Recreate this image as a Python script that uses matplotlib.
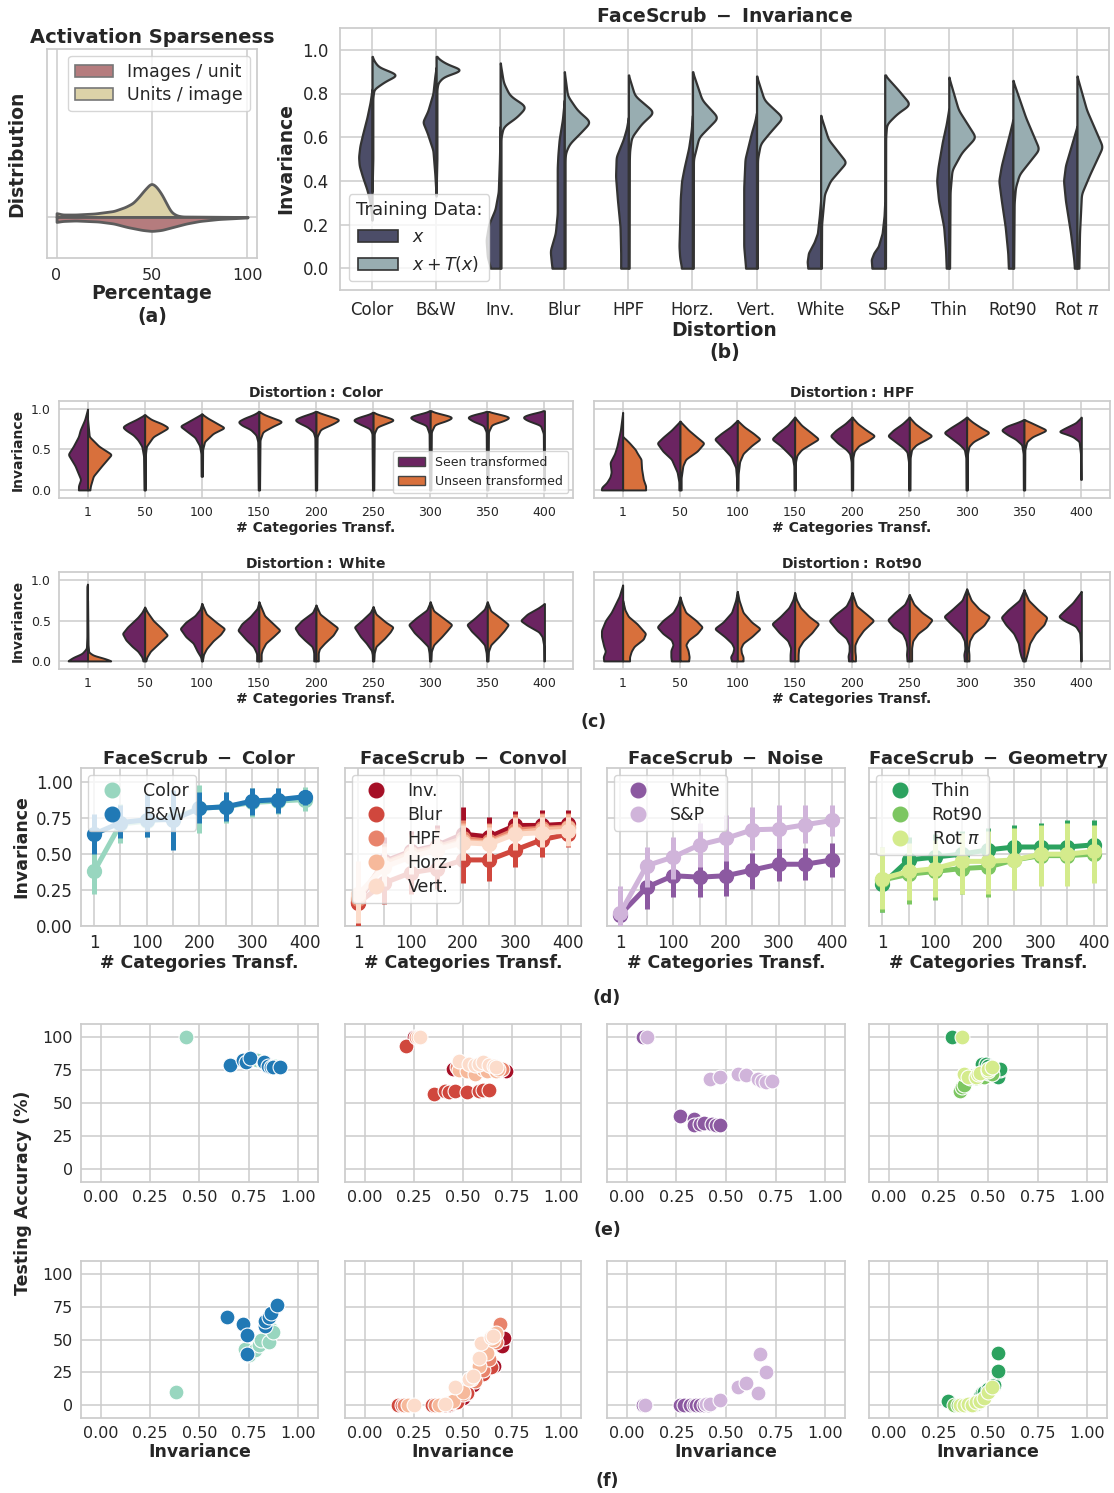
import numpy as np
import matplotlib
matplotlib.use("Agg")
import matplotlib.pyplot as plt
import seaborn as sns
from matplotlib.patches import Patch
from matplotlib.lines import Line2D

sns.set_theme(style="whitegrid")
plt.rcParams['font.family'] = ['DejaVu Sans']
plt.rcParams.update({
    'axes.edgecolor': '#cccccc', 'grid.color': '#cccccc', 'axes.linewidth': 1.25,
    'grid.linewidth': 1.1, 'text.color': '#262626', 'axes.labelcolor': '#262626',
    'xtick.color': '#262626', 'ytick.color': '#262626', 'mathtext.fontset': 'dejavusans',
    'legend.framealpha': 0.8, 'legend.edgecolor': '#cccccc',
})

# ---------------------------------------------------------------- data (a)
A_X_UNITS = [0, 3, 10, 20, 30, 36, 40, 43, 46, 49.5, 52, 55, 58, 60, 63, 66, 100]
A_UNITS_IMAGE = [4, 2.5, 2.5, 3.5, 6, 10, 14, 20, 27, 34, 31, 23, 12, 5, 1.5, 0.5, 0]
A_X_IMAGES = [0, 3, 10, 22, 30, 37, 45, 50, 55, 61, 68, 75, 85, 100]
A_IMAGES_UNIT = [5, 4, 3.5, 4.5, 6.5, 10, 13, 14, 13, 10, 6.5, 4, 2, 0.5]

# ---------------------------------------------------------------- data (b)
B_CATS = ["Color", "B&W", "Inv.", "Blur", "HPF", "Horz.", "Vert.", "White", "S&P",
          "Thin", "Rot90", r"Rot $\pi$"]
# (invariance, half width) profiles, training on x
B_DARK = [
    [(0.22, 0.0), (0.3, 0.03), (0.36, 0.08), (0.42, 0.15), (0.47, 0.2), (0.51, 0.21), (0.56, 0.19), (0.61, 0.15), (0.69, 0.08), (0.76, 0.03), (0.82, 0.0)],
    [(0.33, 0.0), (0.43, 0.02), (0.54, 0.05), (0.62, 0.14), (0.67, 0.21), (0.72, 0.13), (0.80, 0.05), (0.88, 0.02), (0.92, 0.0)],
    [(0.0, 0.15), (0.05, 0.2), (0.13, 0.22), (0.2, 0.18), (0.27, 0.08), (0.35, 0.03), (0.5, 0.012), (0.65, 0.0)],
    [(0.0, 0.19), (0.02, 0.2), (0.08, 0.22), (0.16, 0.14), (0.25, 0.11), (0.31, 0.11), (0.46, 0.11), (0.52, 0.1), (0.59, 0.08), (0.68, 0.03), (0.77, 0.0)],
    [(0.0, 0.12), (0.07, 0.12), (0.19, 0.13), (0.31, 0.17), (0.42, 0.2), (0.51, 0.19), (0.59, 0.08), (0.64, 0.03), (0.69, 0.0)],
    [(0.0, 0.17), (0.05, 0.2), (0.1, 0.21), (0.2, 0.2), (0.32, 0.19), (0.4, 0.17), (0.46, 0.13), (0.55, 0.06), (0.63, 0.02), (0.7, 0.0)],
    [(0.0, 0.17), (0.1, 0.2), (0.24, 0.2), (0.37, 0.2), (0.5, 0.18), (0.62, 0.08), (0.67, 0.03), (0.71, 0.0)],
    [(0.0, 0.2), (0.03, 0.21), (0.07, 0.19), (0.12, 0.1), (0.16, 0.05), (0.24, 0.02), (0.31, 0.0)],
    [(0.0, 0.2), (0.04, 0.21), (0.07, 0.17), (0.1, 0.1), (0.16, 0.04), (0.24, 0.01), (0.3, 0.0)],
    [(0.0, 0.04), (0.08, 0.05), (0.19, 0.08), (0.31, 0.16), (0.4, 0.19), (0.46, 0.17), (0.58, 0.1), (0.66, 0.04), (0.73, 0.0)],
    [(0.0, 0.07), (0.07, 0.08), (0.19, 0.12), (0.31, 0.18), (0.4, 0.22), (0.47, 0.18), (0.54, 0.12), (0.62, 0.05), (0.68, 0.0)],
    [(0.0, 0.04), (0.04, 0.05), (0.16, 0.1), (0.31, 0.18), (0.4, 0.21), (0.47, 0.18), (0.53, 0.12), (0.6, 0.05), (0.65, 0.0)],
]
# training on x + T(x)
B_LIGHT = [
    [(0.35, 0.0), (0.5, 0.012), (0.78, 0.012), (0.82, 0.03), (0.855, 0.2), (0.885, 0.4), (0.905, 0.25), (0.92, 0.11), (0.945, 0.04), (0.97, 0.0)],
    [(0.35, 0.0), (0.5, 0.012), (0.82, 0.012), (0.85, 0.03), (0.878, 0.12), (0.895, 0.3), (0.91, 0.41), (0.925, 0.25), (0.946, 0.1), (0.97, 0.0)],
    [(0.0, 0.012), (0.6, 0.012), (0.65, 0.05), (0.69, 0.25), (0.74, 0.41), (0.79, 0.15), (0.85, 0.05), (0.94, 0.0)],
    [(0.0, 0.012), (0.5, 0.012), (0.53, 0.02), (0.57, 0.08), (0.62, 0.25), (0.67, 0.41), (0.725, 0.2), (0.79, 0.05), (0.9, 0.0)],
    [(0.0, 0.012), (0.5, 0.015), (0.54, 0.02), (0.6, 0.05), (0.66, 0.2), (0.715, 0.40), (0.79, 0.1), (0.885, 0.0)],
    [(0.0, 0.012), (0.5, 0.015), (0.54, 0.05), (0.6, 0.1), (0.69, 0.40), (0.77, 0.15), (0.9, 0.0)],
    [(0.0, 0.012), (0.5, 0.015), (0.57, 0.06), (0.62, 0.2), (0.69, 0.41), (0.77, 0.12), (0.88, 0.0)],
    [(0.0, 0.012), (0.2, 0.015), (0.28, 0.04), (0.34, 0.06), (0.40, 0.15), (0.485, 0.40), (0.59, 0.12), (0.70, 0.0)],
    [(0.0, 0.012), (0.6, 0.015), (0.66, 0.03), (0.71, 0.2), (0.75, 0.40), (0.82, 0.2), (0.885, 0.0)],
    [(0.0, 0.012), (0.35, 0.02), (0.45, 0.05), (0.53, 0.2), (0.60, 0.42), (0.725, 0.15), (0.875, 0.0)],
    [(0.0, 0.012), (0.3, 0.02), (0.37, 0.04), (0.43, 0.1), (0.545, 0.41), (0.69, 0.2), (0.86, 0.0)],
    [(0.0, 0.03), (0.16, 0.04), (0.34, 0.07), (0.43, 0.2), (0.556, 0.40), (0.725, 0.15), (0.88, 0.0)],
]

# ---------------------------------------------------------------- data (c)
C_CATS = ["1", "50", "100", "150", "200", "250", "300", "350", "400"]
C_TITLES = ["Color", "HPF", "White", "Rot90"]
C_COLOR_SEEN = [
    [(0.0, 0.16), (0.05, 0.16), (0.13, 0.12), (0.3, 0.22), (0.44, 0.34), (0.54, 0.25), (0.66, 0.16), (0.74, 0.13), (0.87, 0.05), (1.0, 0.0)],
    [(0.0, 0.012), (0.42, 0.02), (0.54, 0.05), (0.62, 0.12), (0.68, 0.2), (0.74, 0.33), (0.78, 0.39), (0.82, 0.3), (0.87, 0.15), (0.93, 0.0)],
    [(0.17, 0.012), (0.45, 0.015), (0.55, 0.04), (0.65, 0.12), (0.72, 0.25), (0.79, 0.38), (0.84, 0.25), (0.9, 0.1), (0.94, 0.0)],
    [(0.0, 0.012), (0.6, 0.02), (0.68, 0.05), (0.75, 0.15), (0.8, 0.3), (0.845, 0.37), (0.89, 0.25), (0.93, 0.1), (0.97, 0.0)],
    [(0.0, 0.012), (0.65, 0.02), (0.72, 0.05), (0.78, 0.15), (0.83, 0.3), (0.87, 0.38), (0.91, 0.25), (0.945, 0.1), (0.97, 0.0)],
    [(0.0, 0.012), (0.7, 0.02), (0.76, 0.06), (0.82, 0.25), (0.866, 0.36), (0.9, 0.25), (0.935, 0.08), (0.96, 0.0)],
    [(0.0, 0.012), (0.7, 0.02), (0.8, 0.07), (0.85, 0.25), (0.9, 0.37), (0.93, 0.25), (0.955, 0.1), (0.98, 0.0)],
    [(0.0, 0.012), (0.72, 0.02), (0.8, 0.07), (0.85, 0.25), (0.9, 0.36), (0.93, 0.25), (0.955, 0.1), (0.97, 0.0)],
    [(0.0, 0.012), (0.7, 0.02), (0.8, 0.07), (0.86, 0.3), (0.9, 0.39), (0.93, 0.3), (0.96, 0.12), (0.98, 0.0)],
]
C_COLOR_UNSEEN = [
    [(0.0, 0.04), (0.05, 0.05), (0.17, 0.1), (0.3, 0.25), (0.44, 0.42), (0.54, 0.2), (0.66, 0.03), (0.8, 0.01), (0.87, 0.0)],
    [(0.0, 0.012), (0.45, 0.015), (0.54, 0.03), (0.66, 0.15), (0.72, 0.3), (0.77, 0.42), (0.82, 0.3), (0.87, 0.12), (0.93, 0.0)],
    [(0.17, 0.012), (0.5, 0.015), (0.6, 0.05), (0.7, 0.2), (0.77, 0.4), (0.83, 0.25), (0.89, 0.1), (0.94, 0.0)],
    [(0.0, 0.012), (0.62, 0.02), (0.72, 0.07), (0.79, 0.25), (0.845, 0.42), (0.89, 0.25), (0.93, 0.1), (0.97, 0.0)],
    [(0.0, 0.012), (0.66, 0.02), (0.75, 0.08), (0.82, 0.3), (0.87, 0.42), (0.91, 0.25), (0.945, 0.1), (0.97, 0.0)],
    [(0.0, 0.012), (0.7, 0.02), (0.78, 0.07), (0.83, 0.25), (0.866, 0.38), (0.9, 0.25), (0.935, 0.08), (0.96, 0.0)],
    [(0.0, 0.012), (0.72, 0.02), (0.81, 0.08), (0.86, 0.3), (0.9, 0.4), (0.93, 0.25), (0.955, 0.1), (0.98, 0.0)],
    [(0.0, 0.012), (0.72, 0.02), (0.81, 0.08), (0.86, 0.3), (0.9, 0.4), (0.93, 0.25), (0.955, 0.1), (0.97, 0.0)],
    None,
]
C_HPF_SEEN = [
    [(0.0, 0.37), (0.03, 0.37), (0.09, 0.28), (0.16, 0.22), (0.22, 0.2), (0.34, 0.22), (0.45, 0.14), (0.54, 0.1), (0.74, 0.04), (0.96, 0.0)],
    [(0.0, 0.02), (0.1, 0.02), (0.22, 0.05), (0.3, 0.1), (0.38, 0.15), (0.48, 0.3), (0.58, 0.40), (0.65, 0.3), (0.74, 0.15), (0.85, 0.0)],
    [(0.0, 0.012), (0.15, 0.015), (0.28, 0.03), (0.42, 0.12), (0.52, 0.25), (0.63, 0.40), (0.7, 0.28), (0.78, 0.12), (0.86, 0.0)],
    [(0.0, 0.012), (0.3, 0.015), (0.4, 0.04), (0.46, 0.12), (0.55, 0.25), (0.63, 0.40), (0.7, 0.3), (0.8, 0.12), (0.9, 0.0)],
    [(0.0, 0.012), (0.35, 0.015), (0.45, 0.04), (0.5, 0.1), (0.58, 0.25), (0.67, 0.38), (0.74, 0.28), (0.82, 0.12), (0.9, 0.0)],
    [(0.0, 0.012), (0.35, 0.015), (0.47, 0.04), (0.53, 0.12), (0.6, 0.25), (0.67, 0.38), (0.74, 0.28), (0.82, 0.12), (0.9, 0.0)],
    [(0.0, 0.012), (0.4, 0.015), (0.5, 0.04), (0.56, 0.12), (0.63, 0.25), (0.71, 0.40), (0.77, 0.28), (0.84, 0.12), (0.9, 0.0)],
    [(0.0, 0.012), (0.45, 0.015), (0.56, 0.04), (0.63, 0.15), (0.68, 0.28), (0.74, 0.40), (0.79, 0.3), (0.84, 0.1), (0.87, 0.0)],
    [(0.13, 0.012), (0.45, 0.015), (0.6, 0.04), (0.66, 0.15), (0.7, 0.3), (0.72, 0.4), (0.76, 0.3), (0.83, 0.1), (0.9, 0.0)],
]
C_HPF_UNSEEN = [
    [(0.0, 0.4), (0.05, 0.4), (0.13, 0.36), (0.26, 0.33), (0.38, 0.32), (0.46, 0.25), (0.5, 0.22), (0.58, 0.12), (0.63, 0.05), (0.66, 0.0)],
    [(0.0, 0.02), (0.15, 0.02), (0.3, 0.05), (0.38, 0.1), (0.48, 0.3), (0.58, 0.42), (0.65, 0.3), (0.74, 0.15), (0.85, 0.0)],
    [(0.0, 0.012), (0.2, 0.015), (0.35, 0.04), (0.45, 0.1), (0.55, 0.25), (0.63, 0.40), (0.7, 0.28), (0.78, 0.12), (0.86, 0.0)],
    [(0.0, 0.012), (0.35, 0.015), (0.43, 0.04), (0.5, 0.12), (0.57, 0.28), (0.63, 0.42), (0.7, 0.3), (0.8, 0.12), (0.9, 0.0)],
    [(0.0, 0.012), (0.4, 0.015), (0.48, 0.04), (0.55, 0.12), (0.61, 0.28), (0.67, 0.40), (0.74, 0.25), (0.82, 0.1), (0.9, 0.0)],
    [(0.0, 0.012), (0.4, 0.015), (0.5, 0.04), (0.56, 0.12), (0.62, 0.28), (0.67, 0.40), (0.74, 0.25), (0.82, 0.1), (0.9, 0.0)],
    [(0.0, 0.012), (0.45, 0.015), (0.54, 0.04), (0.6, 0.12), (0.66, 0.28), (0.71, 0.40), (0.77, 0.25), (0.84, 0.1), (0.9, 0.0)],
    [(0.0, 0.012), (0.5, 0.015), (0.6, 0.05), (0.66, 0.15), (0.7, 0.28), (0.74, 0.40), (0.79, 0.25), (0.84, 0.1), (0.87, 0.0)],
    None,
]
C_WHITE_SEEN = [
    [(0.0, 0.35), (0.045, 0.25), (0.09, 0.1), (0.155, 0.02), (0.3, 0.012), (0.93, 0.012), (0.95, 0.0)],
    [(0.0, 0.03), (0.05, 0.05), (0.12, 0.12), (0.18, 0.22), (0.26, 0.33), (0.34, 0.39), (0.42, 0.3), (0.54, 0.12), (0.6, 0.05), (0.665, 0.0)],
    [(0.0, 0.005), (0.05, 0.02), (0.12, 0.08), (0.22, 0.15), (0.3, 0.28), (0.4, 0.38), (0.48, 0.28), (0.56, 0.12), (0.64, 0.03), (0.71, 0.0)],
    [(0.0, 0.04), (0.09, 0.04), (0.14, 0.07), (0.18, 0.1), (0.26, 0.22), (0.38, 0.37), (0.46, 0.3), (0.55, 0.15), (0.65, 0.03), (0.73, 0.0)],
    [(0.0, 0.04), (0.1, 0.04), (0.14, 0.05), (0.18, 0.07), (0.26, 0.2), (0.33, 0.3), (0.41, 0.37), (0.5, 0.25), (0.6, 0.06), (0.69, 0.0)],
    [(0.0, 0.012), (0.08, 0.015), (0.13, 0.03), (0.22, 0.12), (0.3, 0.22), (0.42, 0.33), (0.5, 0.2), (0.6, 0.05), (0.67, 0.0)],
    [(0.0, 0.012), (0.1, 0.02), (0.18, 0.04), (0.26, 0.15), (0.35, 0.28), (0.45, 0.38), (0.53, 0.25), (0.63, 0.06), (0.73, 0.0)],
    [(0.0, 0.012), (0.1, 0.02), (0.2, 0.05), (0.28, 0.15), (0.37, 0.28), (0.45, 0.36), (0.53, 0.22), (0.64, 0.05), (0.73, 0.0)],
    [(0.0, 0.012), (0.2, 0.015), (0.3, 0.04), (0.36, 0.1), (0.44, 0.3), (0.5, 0.42), (0.58, 0.3), (0.66, 0.1), (0.71, 0.0)],
]
C_WHITE_UNSEEN = [
    [(0.0, 0.42), (0.03, 0.3), (0.07, 0.1), (0.11, 0.02), (0.2, 0.008), (0.75, 0.0)],
    [(0.0, 0.02), (0.05, 0.04), (0.12, 0.1), (0.2, 0.22), (0.32, 0.40), (0.4, 0.3), (0.5, 0.15), (0.6, 0.05), (0.665, 0.0)],
    [(0.0, 0.01), (0.08, 0.03), (0.15, 0.08), (0.25, 0.2), (0.33, 0.33), (0.4, 0.4), (0.48, 0.25), (0.58, 0.08), (0.71, 0.0)],
    [(0.0, 0.04), (0.09, 0.04), (0.14, 0.06), (0.22, 0.12), (0.3, 0.25), (0.38, 0.37), (0.46, 0.25), (0.56, 0.1), (0.73, 0.0)],
    [(0.0, 0.04), (0.1, 0.04), (0.15, 0.06), (0.22, 0.15), (0.32, 0.3), (0.41, 0.38), (0.48, 0.25), (0.58, 0.07), (0.69, 0.0)],
    [(0.0, 0.012), (0.1, 0.02), (0.18, 0.05), (0.28, 0.2), (0.36, 0.3), (0.42, 0.35), (0.48, 0.22), (0.58, 0.05), (0.67, 0.0)],
    [(0.0, 0.012), (0.12, 0.02), (0.2, 0.06), (0.3, 0.2), (0.38, 0.3), (0.45, 0.38), (0.52, 0.25), (0.62, 0.06), (0.73, 0.0)],
    [(0.0, 0.012), (0.12, 0.02), (0.2, 0.06), (0.3, 0.2), (0.38, 0.3), (0.45, 0.37), (0.52, 0.25), (0.62, 0.06), (0.73, 0.0)],
    None,
]
C_ROT90_SEEN = [
    [(0.0, 0.33), (0.05, 0.34), (0.12, 0.3), (0.18, 0.33), (0.3, 0.37), (0.38, 0.37), (0.5, 0.3), (0.6, 0.2), (0.67, 0.15), (0.8, 0.06), (0.94, 0.0)],
    [(0.0, 0.15), (0.05, 0.16), (0.13, 0.16), (0.2, 0.12), (0.26, 0.15), (0.34, 0.3), (0.42, 0.4), (0.5, 0.3), (0.6, 0.12), (0.7, 0.04), (0.79, 0.0)],
    [(0.0, 0.1), (0.05, 0.12), (0.1, 0.08), (0.16, 0.06), (0.22, 0.1), (0.3, 0.22), (0.4, 0.4), (0.48, 0.25), (0.6, 0.1), (0.75, 0.03), (0.86, 0.0)],
    [(0.0, 0.08), (0.08, 0.08), (0.16, 0.07), (0.25, 0.12), (0.35, 0.27), (0.46, 0.4), (0.55, 0.25), (0.66, 0.1), (0.76, 0.03), (0.845, 0.0)],
    [(0.0, 0.06), (0.06, 0.07), (0.12, 0.05), (0.2, 0.05), (0.28, 0.1), (0.37, 0.25), (0.5, 0.4), (0.58, 0.28), (0.68, 0.1), (0.78, 0.03), (0.845, 0.0)],
    [(0.0, 0.04), (0.08, 0.05), (0.16, 0.04), (0.25, 0.06), (0.34, 0.12), (0.42, 0.28), (0.51, 0.38), (0.6, 0.25), (0.7, 0.08), (0.82, 0.0)],
    [(0.0, 0.04), (0.08, 0.05), (0.15, 0.03), (0.25, 0.04), (0.34, 0.1), (0.44, 0.25), (0.55, 0.4), (0.64, 0.25), (0.75, 0.08), (0.89, 0.0)],
    [(0.0, 0.02), (0.05, 0.05), (0.13, 0.08), (0.22, 0.1), (0.34, 0.18), (0.45, 0.32), (0.54, 0.4), (0.63, 0.28), (0.75, 0.08), (0.88, 0.0)],
    [(0.0, 0.012), (0.2, 0.015), (0.35, 0.03), (0.43, 0.1), (0.5, 0.3), (0.55, 0.4), (0.62, 0.3), (0.72, 0.15), (0.86, 0.0)],
]
C_ROT90_UNSEEN = [
    [(0.0, 0.12), (0.05, 0.12), (0.12, 0.15), (0.18, 0.2), (0.27, 0.36), (0.34, 0.4), (0.42, 0.3), (0.46, 0.25), (0.55, 0.1), (0.63, 0.04), (0.75, 0.0)],
    [(0.0, 0.15), (0.05, 0.16), (0.13, 0.14), (0.2, 0.1), (0.26, 0.15), (0.34, 0.3), (0.42, 0.39), (0.5, 0.28), (0.6, 0.1), (0.7, 0.04), (0.79, 0.0)],
    [(0.0, 0.1), (0.05, 0.1), (0.1, 0.07), (0.16, 0.06), (0.22, 0.1), (0.3, 0.25), (0.4, 0.4), (0.48, 0.25), (0.6, 0.1), (0.75, 0.03), (0.86, 0.0)],
    [(0.0, 0.06), (0.08, 0.06), (0.16, 0.07), (0.25, 0.15), (0.35, 0.3), (0.46, 0.42), (0.55, 0.25), (0.66, 0.1), (0.76, 0.03), (0.845, 0.0)],
    [(0.0, 0.06), (0.06, 0.06), (0.12, 0.05), (0.2, 0.05), (0.28, 0.1), (0.38, 0.2), (0.46, 0.32), (0.5, 0.38), (0.58, 0.25), (0.68, 0.08), (0.845, 0.0)],
    [(0.0, 0.04), (0.08, 0.04), (0.16, 0.04), (0.25, 0.06), (0.34, 0.15), (0.42, 0.3), (0.51, 0.4), (0.6, 0.22), (0.7, 0.08), (0.82, 0.0)],
    [(0.0, 0.04), (0.08, 0.04), (0.15, 0.03), (0.25, 0.05), (0.34, 0.12), (0.44, 0.3), (0.55, 0.4), (0.64, 0.22), (0.75, 0.08), (0.89, 0.0)],
    [(0.0, 0.02), (0.05, 0.04), (0.13, 0.07), (0.22, 0.1), (0.34, 0.2), (0.45, 0.35), (0.54, 0.4), (0.63, 0.25), (0.75, 0.08), (0.88, 0.0)],
    None,
]

# ---------------------------------------------------------------- data (d)
D_CATS = ["1", "50", "100", "150", "200", "250", "300", "350", "400"]
D_TICKLABELS = ["1", "", "100", "", "200", "", "300", "", "400"]
D_TITLES = ["Color", "Convol", "Noise", "Geometry"]

COLOR_MEAN = [0.38, 0.71, 0.73, 0.75, 0.82, 0.83, 0.86, 0.87, 0.88]
COLOR_LO = [0.22, 0.58, 0.62, 0.60, 0.65, 0.72, 0.76, 0.78, 0.80]
COLOR_HI = [0.55, 0.85, 0.86, 0.88, 0.98, 0.93, 0.96, 0.96, 0.97]
BW_MEAN = [0.64, 0.72, 0.74, 0.74, 0.82, 0.83, 0.87, 0.88, 0.90]
BW_LO = [0.50, 0.61, 0.62, 0.53, 0.72, 0.73, 0.77, 0.79, 0.84]
BW_HI = [0.78, 0.84, 0.92, 0.95, 0.93, 0.93, 0.96, 0.96, 0.95]

INV_MEAN = [0.17, 0.45, 0.52, 0.56, 0.64, 0.62, 0.70, 0.70, 0.71]
INV_LO = [0.05, 0.30, 0.38, 0.42, 0.50, 0.48, 0.58, 0.60, 0.62]
INV_HI = [0.30, 0.62, 0.66, 0.70, 0.83, 0.76, 0.80, 0.81, 0.81]
BLUR_MEAN = [0.16, 0.30, 0.37, 0.40, 0.46, 0.46, 0.53, 0.60, 0.64]
BLUR_LO = [0.00, 0.15, 0.22, 0.26, 0.30, 0.31, 0.41, 0.48, 0.55]
BLUR_HI = [0.35, 0.45, 0.52, 0.55, 0.62, 0.61, 0.67, 0.72, 0.74]
HPF_MEAN = [0.19, 0.44, 0.51, 0.55, 0.61, 0.59, 0.67, 0.68, 0.69]
HPF_LO = [0.05, 0.30, 0.38, 0.42, 0.48, 0.46, 0.56, 0.58, 0.60]
HPF_HI = [0.35, 0.58, 0.64, 0.68, 0.74, 0.72, 0.78, 0.79, 0.79]
HORZ_MEAN = [0.20, 0.43, 0.50, 0.54, 0.59, 0.58, 0.65, 0.67, 0.68]
HORZ_LO = [0.05, 0.30, 0.37, 0.41, 0.46, 0.45, 0.54, 0.56, 0.58]
HORZ_HI = [0.36, 0.56, 0.63, 0.67, 0.72, 0.71, 0.76, 0.78, 0.78]
VERT_MEAN = [0.22, 0.41, 0.48, 0.53, 0.58, 0.57, 0.64, 0.65, 0.66]
VERT_LO = [0.02, 0.28, 0.36, 0.40, 0.46, 0.45, 0.53, 0.55, 0.56]
VERT_HI = [0.45, 0.55, 0.62, 0.66, 0.70, 0.69, 0.75, 0.76, 0.76]

WHITE_MEAN = [0.08, 0.27, 0.35, 0.34, 0.35, 0.39, 0.43, 0.43, 0.46]
WHITE_LO = [0.00, 0.12, 0.20, 0.20, 0.21, 0.26, 0.31, 0.32, 0.34]
WHITE_HI = [0.20, 0.38, 0.48, 0.49, 0.48, 0.51, 0.54, 0.54, 0.58]
SP_MEAN = [0.09, 0.42, 0.48, 0.565, 0.61, 0.67, 0.675, 0.705, 0.735]
SP_LO = [0.00, 0.27, 0.33, 0.41, 0.45, 0.53, 0.54, 0.58, 0.63]
SP_HI = [0.28, 0.55, 0.62, 0.72, 0.77, 0.83, 0.84, 0.84, 0.84]

THIN_MEAN = [0.29, 0.46, 0.48, 0.50, 0.53, 0.55, 0.55, 0.55, 0.565]
THIN_LO = [0.10, 0.28, 0.30, 0.33, 0.38, 0.38, 0.38, 0.36, 0.36]
THIN_HI = [0.50, 0.62, 0.64, 0.66, 0.68, 0.70, 0.72, 0.74, 0.74]
ROT90_MEAN = [0.32, 0.36, 0.38, 0.40, 0.41, 0.46, 0.49, 0.49, 0.50]
ROT90_LO = [0.10, 0.15, 0.18, 0.22, 0.20, 0.28, 0.30, 0.30, 0.32]
ROT90_HI = [0.55, 0.56, 0.58, 0.60, 0.62, 0.64, 0.66, 0.68, 0.68]
ROTPI_MEAN = [0.33, 0.38, 0.40, 0.45, 0.45, 0.46, 0.50, 0.50, 0.52]
ROTPI_LO = [0.12, 0.18, 0.20, 0.22, 0.22, 0.25, 0.28, 0.28, 0.30]
ROTPI_HI = [0.55, 0.58, 0.60, 0.65, 0.66, 0.68, 0.70, 0.72, 0.70]

# ---------------------------------------------------------------- data (e)
E_COLOR_X = [0.43, 0.72, 0.74, 0.76, 0.79, 0.82, 0.85, 0.87, 0.88]
E_COLOR_Y = [100, 83, 83, 84, 83, 81, 79, 78, 78]
E_BW_X = [0.655, 0.72, 0.737, 0.755, 0.827, 0.845, 0.86, 0.873, 0.91]
E_BW_Y = [78.5, 83, 81, 84, 81, 78, 77, 77.5, 77.5]
E_INV_X = [0.25, 0.45, 0.50, 0.55, 0.60, 0.63, 0.66, 0.70, 0.72]
E_INV_Y = [100, 76, 77, 76, 75, 76, 77, 76, 74]
E_BLUR_X = [0.21, 0.35, 0.41, 0.43, 0.46, 0.52, 0.58, 0.60, 0.63]
E_BLUR_Y = [93, 57, 59, 58, 59, 58, 59, 60, 60]
E_HPF_X = [0.26, 0.47, 0.52, 0.55, 0.60, 0.62, 0.66, 0.69, 0.70]
E_HPF_Y = [100, 77, 80, 78, 77, 76, 78, 75, 76]
E_HORZ_X = [0.27, 0.48, 0.52, 0.56, 0.60, 0.62, 0.65, 0.67, 0.68]
E_HORZ_Y = [100, 75, 74, 72, 76, 74, 77, 74, 76]
E_VERT_X = [0.28, 0.48, 0.53, 0.56, 0.58, 0.60, 0.63, 0.66, 0.67]
E_VERT_Y = [100, 82, 80, 79, 80, 81, 79, 78, 77]
E_WHITE_X = [0.08, 0.27, 0.34, 0.34, 0.37, 0.39, 0.43, 0.45, 0.47]
E_WHITE_Y = [100, 40.5, 37.5, 33, 34, 35, 34, 33, 33]
E_SP_X = [0.10, 0.42, 0.47, 0.56, 0.60, 0.66, 0.68, 0.70, 0.73]
E_SP_Y = [100, 68.5, 70, 72, 71, 68.5, 67, 66, 67]
E_THIN_X = [0.32, 0.47, 0.49, 0.50, 0.53, 0.55, 0.55, 0.56, 0.56]
E_THIN_Y = [100, 80, 80, 78, 76, 75, 70, 75, 76]
E_ROT90_X = [0.36, 0.37, 0.38, 0.41, 0.44, 0.46, 0.48, 0.50, 0.52]
E_ROT90_Y = [59, 62, 64, 69, 69, 70, 70, 73, 72]
E_ROTPI_X = [0.37, 0.38, 0.40, 0.44, 0.45, 0.46, 0.50, 0.50, 0.52]
E_ROTPI_Y = [100, 72, 70, 70, 72, 73, 74, 76, 77]

# ---------------------------------------------------------------- data (f)
F_COLOR_X = [0.38, 0.73, 0.75, 0.78, 0.80, 0.81, 0.85, 0.86, 0.87]
F_COLOR_Y = [10, 43, 38, 42, 46, 50, 48, 58, 56]
F_BW_X = [0.64, 0.72, 0.74, 0.74, 0.83, 0.83, 0.85, 0.86, 0.89]
F_BW_Y = [67.5, 62, 53.5, 39, 60, 64.5, 67.5, 70, 76]
F_INV_X = [0.19, 0.35, 0.43, 0.50, 0.55, 0.60, 0.66, 0.70, 0.71]
F_INV_Y = [0, 0, 0, 5, 15, 25, 30, 45, 51]
F_BLUR_X = [0.17, 0.19, 0.34, 0.41, 0.43, 0.47, 0.52, 0.60, 0.64]
F_BLUR_Y = [0, 0, 0, 0, 1, 2, 9, 24, 29]
F_HPF_X = [0.20, 0.36, 0.44, 0.50, 0.56, 0.60, 0.63, 0.67, 0.69]
F_HPF_Y = [0, 0, 2, 8, 18, 27, 35, 48, 62]
F_HORZ_X = [0.22, 0.38, 0.45, 0.50, 0.54, 0.58, 0.62, 0.65, 0.67]
F_HORZ_Y = [0, 0, 3, 10, 20, 30, 40, 50, 55]
F_VERT_X = [0.25, 0.41, 0.46, 0.53, 0.55, 0.58, 0.59, 0.64, 0.65]
F_VERT_Y = [0, 1, 14, 20, 22, 36, 47, 52, 53]
F_WHITE_X = [0.08, 0.27, 0.29, 0.32, 0.34, 0.35, 0.37, 0.39, 0.41]
F_WHITE_Y = [0, 0, 0, 0, 0, 0, 0, 0, 0]
F_SP_X = [0.09, 0.40, 0.42, 0.47, 0.56, 0.60, 0.66, 0.67, 0.70]
F_SP_Y = [0, 0.5, 1, 3.5, 14, 17, 9, 39, 25]
F_THIN_X = [0.30, 0.46, 0.47, 0.48, 0.50, 0.53, 0.55, 0.55, 0.55]
F_THIN_Y = [3, 7, 9, 10, 12, 15, 25, 26, 40]
F_ROT90_X = [0.33, 0.35, 0.37, 0.38, 0.40, 0.41, 0.43, 0.44, 0.45]
F_ROT90_Y = [0, 0, 0, 0, 0, 0, 0, 1, 2]
F_ROTPI_X = [0.36, 0.38, 0.40, 0.42, 0.44, 0.46, 0.48, 0.50, 0.52]
F_ROTPI_Y = [0, 0, 1, 0, 2, 3, 5, 10, 14]

# ---------------------------------------------------------------- colours
COL = {"Color": "#98d6bf", "B&W": "#2179b5",
       "Inv.": "#a50f26", "Blur": "#d0473d", "HPF": "#e8836b", "Horz.": "#f6b99b", "Vert.": "#fcdccb",
       "White": "#8c59a1", "S&P": "#d0b4da",
       "Thin": "#2ca25f", "Rot90": "#7cc661", "Rot $\\pi$": "#d4eb8c"}

# ---------------------------------------------------------------- helpers
W, H = 1114, 1493
fig = plt.figure(figsize=(W / 100, H / 100), dpi=100)


def add_ax(x0, y0, x1, y1):
    return fig.add_axes([x0 / W, 1 - y1 / H, (x1 - x0) / W, (y1 - y0) / H])


def smooth_profile(ys, ws, n=300, k=21):
    ys = np.asarray(ys, float)
    ws = np.asarray(ws, float)
    yy = np.linspace(ys[0], ys[-1], n)
    ww = np.interp(yy, ys, ws)
    ker = np.hanning(k)
    ker /= ker.sum()
    wp = np.pad(ww, k // 2, mode='edge')
    ww = np.convolve(wp, ker, mode='valid')
    return yy, ww


def half_violin(ax, pos, prof, side, color, ec, lw):
    ys = [p[0] for p in prof]
    ws = [p[1] for p in prof]
    yy, ww = smooth_profile(ys, ws)
    xs = pos - ww if side == 'left' else pos + ww
    ax.fill_betweenx(yy, pos, xs, facecolor=color, edgecolor=ec, lw=lw, zorder=3)


def style_ax(ax, fs, pad=6):
    ax.tick_params(axis='both', length=0, labelsize=fs, pad=pad)
    for s in ax.spines.values():
        s.set_color('#cccccc')
        s.set_linewidth(1.25)
    ax.grid(True, color='#cccccc', lw=1.1)
    ax.set_axisbelow(True)


BOLD_TITLE = lambda s: r"$\bf{" + s + "}$"

# ================================================================ (a)
axa = add_ax(47, 49, 257, 258)
style_ax(axa, 11.5, pad=7)
xa, ha = smooth_profile(A_X_UNITS, A_UNITS_IMAGE, k=15)
xb, hb = smooth_profile(A_X_IMAGES, A_IMAGES_UNIT, k=15)
c_units = "#dcd2a8"
c_images = "#b57c7e"
axa.fill_between(xa, 0, ha, facecolor=c_units, edgecolor='#5c5c5c', lw=2, zorder=3)
axa.fill_between(xb, 0, -hb, facecolor=c_images, edgecolor='#5c5c5c', lw=2, zorder=3)
axa.set_xlim(-5, 105)
axa.set_ylim(-41, 168)
axa.set_xticks([0, 50, 100])
axa.set_yticks([0])
axa.set_yticklabels([""])
axa.set_title("Activation Sparseness", fontsize=14, fontweight='bold', pad=4)
axa.set_ylabel("Distribution", fontsize=13.5, fontweight='bold', labelpad=8)
axa.set_xlabel("Percentage\n(a)", fontsize=13.5, fontweight='bold', labelpad=1, linespacing=1.25)
axa.legend(handles=[Patch(facecolor=c_images, edgecolor='#777777', lw=1.2, label="Images / unit"),
                    Patch(facecolor=c_units, edgecolor='#777777', lw=1.2, label="Units / image")],
           loc='upper right', fontsize=12.5, borderaxespad=0.4, handlelength=2.2, labelspacing=0.3)

# ================================================================ (b)
axb = add_ax(340, 28, 1109, 290)
style_ax(axb, 12, pad=8)
dark, light = "#4c4d68", "#98adb1"
for i in range(len(B_CATS)):
    half_violin(axb, i, B_DARK[i], 'left', dark, '#333333', 1.6)
    half_violin(axb, i, B_LIGHT[i], 'right', light, '#333333', 1.6)
axb.set_xlim(-0.5, len(B_CATS) - 0.5)
axb.set_ylim(-0.1, 1.1)
axb.set_xticks(range(len(B_CATS)))
axb.set_xticklabels(B_CATS)
axb.set_yticks([0, 0.2, 0.4, 0.6, 0.8, 1.0])
axb.set_yticklabels(["0.0", "0.2", "0.4", "0.6", "0.8", "1.0"])
axb.set_title(BOLD_TITLE(r"FaceScrub\ -\ Invariance"), fontsize=13.5, pad=4)
axb.set_ylabel("Invariance", fontsize=13.5, fontweight='bold', labelpad=5)
axb.set_xlabel("Distortion\n(b)", fontsize=13.5, fontweight='bold', labelpad=1, linespacing=1.25)
lg = axb.legend(handles=[Patch(facecolor=dark, edgecolor='#333333', lw=1.2, label="$x$"),
                         Patch(facecolor=light, edgecolor='#333333', lw=1.2, label="$x + T(x)$")],
                title="Training Data:", loc='lower left', fontsize=12.5, title_fontsize=13,
                handlelength=2.3, borderaxespad=0.5)
lg.set_zorder(10)

# ================================================================ (c)
c_seen, c_unseen = "#6b2461", "#d8703c"
C_PANELS = [(C_COLOR_SEEN, C_COLOR_UNSEEN), (C_HPF_SEEN, C_HPF_UNSEEN),
            (C_WHITE_SEEN, C_WHITE_UNSEEN), (C_ROT90_SEEN, C_ROT90_UNSEEN)]
C_BOXES = [(59, 401, 573, 498), (594, 401, 1110, 498), (59, 572, 573, 669), (594, 572, 1110, 669)]
for k, (box, (seen, unseen)) in enumerate(zip(C_BOXES, C_PANELS)):
    ax = add_ax(*box)
    style_ax(ax, 9, pad=6)
    for i in range(len(C_CATS)):
        half_violin(ax, i, seen[i], 'left', c_seen, '#2b2b2b', 1.4)
        if unseen[i] is not None:
            half_violin(ax, i, unseen[i], 'right', c_unseen, '#2b2b2b', 1.4)
    ax.set_xlim(-0.5, len(C_CATS) - 0.5)
    ax.set_ylim(-0.1, 1.1)
    ax.set_xticks(range(len(C_CATS)))
    ax.set_xticklabels(C_CATS)
    ax.set_yticks([0, 0.5, 1.0])
    if k % 2 == 0:
        ax.set_yticklabels(["0.0", "0.5", "1.0"])
        ax.set_ylabel("Invariance", fontsize=10, fontweight='bold', labelpad=4)
    else:
        ax.set_yticklabels([])
    ax.set_xlabel("# Categories Transf.", fontsize=10, fontweight='bold', labelpad=1)
    ax.set_title(BOLD_TITLE(r"Distortion:\ " + C_TITLES[k]), fontsize=10, pad=3)
    if k == 0:
        lg = ax.legend(handles=[Patch(facecolor=c_seen, edgecolor='#444444', lw=1, label="Seen transformed"),
                                Patch(facecolor=c_unseen, edgecolor='#444444', lw=1, label="Unseen transformed")],
                       loc='lower right', fontsize=9, borderaxespad=0.4, handlelength=2.2)
        lg.set_zorder(10)
fig.text(594 / W, 1 - 722 / H, "(c)", fontsize=12.5, fontweight='bold', ha='center', va='center')

# ================================================================ (d)
D_SERIES = [
    [("Color", COLOR_MEAN, COLOR_LO, COLOR_HI), ("B&W", BW_MEAN, BW_LO, BW_HI)],
    [("Inv.", INV_MEAN, INV_LO, INV_HI), ("Blur", BLUR_MEAN, BLUR_LO, BLUR_HI),
     ("HPF", HPF_MEAN, HPF_LO, HPF_HI), ("Horz.", HORZ_MEAN, HORZ_LO, HORZ_HI),
     ("Vert.", VERT_MEAN, VERT_LO, VERT_HI)],
    [("White", WHITE_MEAN, WHITE_LO, WHITE_HI), ("S&P", SP_MEAN, SP_LO, SP_HI)],
    [("Thin", THIN_MEAN, THIN_LO, THIN_HI), ("Rot90", ROT90_MEAN, ROT90_LO, ROT90_HI),
     ("Rot $\\pi$", ROTPI_MEAN, ROTPI_LO, ROTPI_HI)],
]
COL_X = [(81, 318), (345, 581), (607, 845), (869, 1107)]
for k, series in enumerate(D_SERIES):
    ax = add_ax(COL_X[k][0], 768, COL_X[k][1], 926)
    style_ax(ax, 12, pad=6)
    xpos = np.arange(len(D_CATS))
    handles = []
    for j, (name, m, lo, hi) in enumerate(series):
        c = COL[name]
        ax.vlines(xpos, lo, hi, color=c, lw=3.6, zorder=3 + j)
        ax.plot(xpos, m, '-o', color=c, lw=3.6, ms=10, zorder=3 + j)
        handles.append(Line2D([], [], ls='', marker='o', ms=10.5, color=c, label=name))
    ax.set_xlim(-0.5, 8.5)
    ax.set_ylim(0, 1.1)
    ax.set_xticks(xpos)
    ax.set_xticklabels(D_TICKLABELS)
    ax.set_yticks([0, 0.25, 0.5, 0.75, 1.0])
    if k == 0:
        ax.set_yticklabels(["0.00", "0.25", "0.50", "0.75", "1.00"])
        ax.set_ylabel("Invariance", fontsize=12.5, fontweight='bold', labelpad=4)
    else:
        ax.set_yticklabels([])
    ax.set_xlabel("# Categories Transf.", fontsize=12.5, fontweight='bold', labelpad=1)
    ax.set_title(BOLD_TITLE(r"FaceScrub\ -\ " + D_TITLES[k]), fontsize=13, pad=3)
    lg = ax.legend(handles=handles, loc='upper left', fontsize=12.5, borderaxespad=0.4,
                   handletextpad=0.8, labelspacing=0.35)
    lg.set_zorder(20)
fig.text(607 / W, 1 - 998 / H, "(d)", fontsize=12.5, fontweight='bold', ha='center', va='center')

# ================================================================ (e) and (f)
E_SERIES = [
    [("Color", E_COLOR_X, E_COLOR_Y), ("B&W", E_BW_X, E_BW_Y)],
    [("Inv.", E_INV_X, E_INV_Y), ("Blur", E_BLUR_X, E_BLUR_Y), ("HPF", E_HPF_X, E_HPF_Y),
     ("Horz.", E_HORZ_X, E_HORZ_Y), ("Vert.", E_VERT_X, E_VERT_Y)],
    [("White", E_WHITE_X, E_WHITE_Y), ("S&P", E_SP_X, E_SP_Y)],
    [("Thin", E_THIN_X, E_THIN_Y), ("Rot90", E_ROT90_X, E_ROT90_Y), ("Rot $\\pi$", E_ROTPI_X, E_ROTPI_Y)],
]
F_SERIES = [
    [("Color", F_COLOR_X, F_COLOR_Y), ("B&W", F_BW_X, F_BW_Y)],
    [("Inv.", F_INV_X, F_INV_Y), ("Blur", F_BLUR_X, F_BLUR_Y), ("HPF", F_HPF_X, F_HPF_Y),
     ("Horz.", F_HORZ_X, F_HORZ_Y), ("Vert.", F_VERT_X, F_VERT_Y)],
    [("White", F_WHITE_X, F_WHITE_Y), ("S&P", F_SP_X, F_SP_Y)],
    [("Thin", F_THIN_X, F_THIN_Y), ("Rot90", F_ROT90_X, F_ROT90_Y), ("Rot $\\pi$", F_ROTPI_X, F_ROTPI_Y)],
]
for row, (series_set, (y0, y1)) in enumerate([(E_SERIES, (1024, 1182)), (F_SERIES, (1261, 1418))]):
    for k, series in enumerate(series_set):
        ax = add_ax(COL_X[k][0], y0, COL_X[k][1], y1)
        style_ax(ax, 11.5, pad=6)
        for j, (name, xs, ys) in enumerate(series):
            ax.scatter(xs, ys, s=115, color=COL[name], edgecolor='white', lw=0.8, zorder=3 + j)
        ax.set_xlim(-0.1, 1.1)
        ax.set_ylim(-10, 110)
        ax.set_xticks([0, 0.25, 0.5, 0.75, 1.0])
        ax.set_xticklabels(["0.00", "0.25", "0.50", "0.75", "1.00"])
        ax.set_yticks([0, 25, 50, 75, 100])
        if k == 0:
            ax.set_yticklabels(["0", "25", "50", "75", "100"])
        else:
            ax.set_yticklabels([])
        if row == 1:
            ax.set_xlabel("Invariance", fontsize=12.5, fontweight='bold', labelpad=1)
fig.text(607 / W, 1 - 1230 / H, "(e)", fontsize=12.5, fontweight='bold', ha='center', va='center')
fig.text(607 / W, 1 - 1481 / H, "(f)", fontsize=12.5, fontweight='bold', ha='center', va='center')
fig.text(23 / W, 1 - 1193 / H, "Testing Accuracy (%)", fontsize=12.5, fontweight='bold',
         rotation=90, ha='center', va='center')

fig.savefig("out.png", dpi=100)
